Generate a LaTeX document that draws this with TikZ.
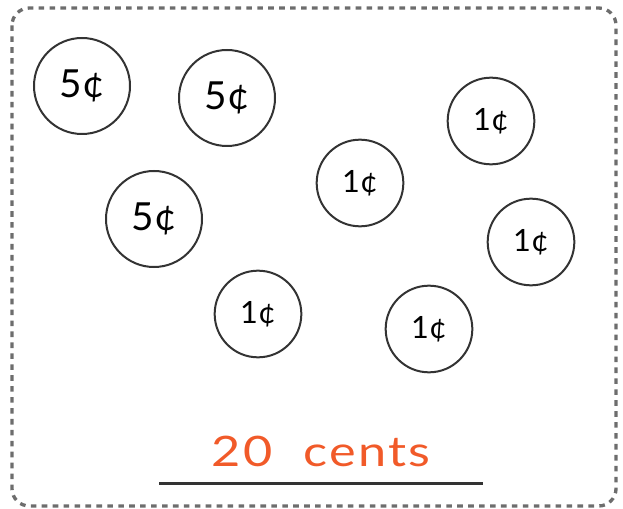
\documentclass[tikz,border=0pt]{standalone}
\usepackage{fontspec}
\setmainfont{Lato}
\newfontfamily\centsfont{Lato}[FakeStretch=1.2, LetterSpace=5]
\usetikzlibrary{positioning}
\definecolor{coin_line}{HTML}{333333}
\definecolor{frame_gray}{HTML}{6D6D6D}
\definecolor{cents_orange}{HTML}{F15A29}
\tikzset{
	bigcoin/.style={circle, draw=coin_line, line width=1.5pt, minimum size=72pt, inner sep=0pt, font=\fontsize{29}{29}\selectfont},
	smallcoin/.style={circle, draw=coin_line, line width=1.5pt, minimum size=65pt, inner sep=0pt, font=\fontsize{23}{23}\selectfont}
}

\begin{document}
\begin{tikzpicture}[x=0.75pt, y=-0.75pt]
	\useasboundingbox (0, 0) rectangle (623, 509);
	\draw[frame_gray, line width=2.5pt, dash pattern=on 4.2pt off 4pt, rounded corners=13pt] (12, 8) rectangle (616, 506);
	\node[bigcoin] (F1) at (82, 86) {5¢};
	\node[bigcoin] (F2) at (227, 98) {5¢};
	\node[bigcoin] (F3) at (154, 219) {5¢};
	\node[smallcoin] (P1) at (360, 183) {1¢};
	\node[smallcoin] (P2) at (491, 121) {1¢};
	\node[smallcoin] (P3) at (531, 242) {1¢};
	\node[smallcoin] (P4) at (258, 314) {1¢};
	\node[smallcoin] (P5) at (429, 329) {1¢};
	\node[anchor=base, inner sep=0pt, text=cents_orange, font=\centsfont\fontsize{31.5}{31.5}\selectfont] (T) at (321, 466) {20\hspace{0.75em}cents};
	\coordinate (L1) at (159, 483);
	\coordinate (L2) at (483, 483);
	\draw[coin_line, line width=2.25pt] (L1) -- (L2);
\end{tikzpicture}
\end{document}
